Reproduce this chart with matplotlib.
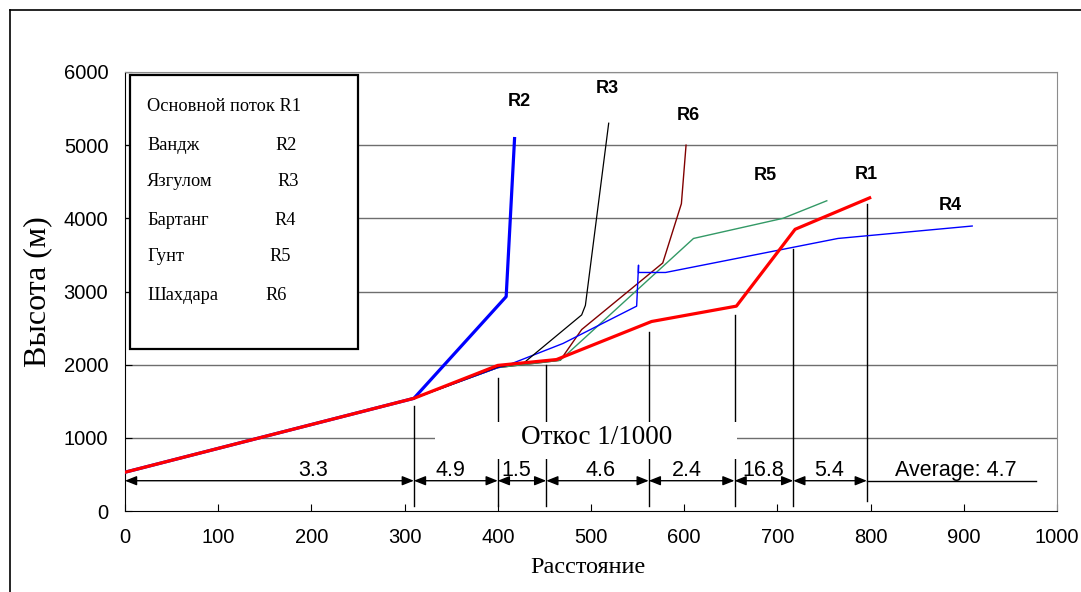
import matplotlib
matplotlib.use("Agg")
import matplotlib.pyplot as plt
from matplotlib.patches import Rectangle
from matplotlib.lines import Line2D

# --- данные профилей рек ---
r1_x = [0, 310, 400, 463, 565, 656, 719, 799]
r1_y = [530, 1540, 1990, 2070, 2590, 2800, 3850, 4280]

r2_x = [0, 310, 409, 418]
r2_y = [530, 1540, 2930, 5090]

r3_x = [0, 310, 400, 428, 490, 494, 519]
r3_y = [530, 1540, 1970, 2025, 2680, 2810, 5300]

r4_x = [0, 310, 400, 410, 470, 549, 551, 551, 580, 765, 909]
r4_y = [530, 1540, 1960, 1990, 2290, 2800, 3360, 3260, 3260, 3725, 3895]

r5_x = [0, 310, 400, 467, 610, 706, 753]
r5_y = [530, 1540, 1960, 2060, 3725, 4000, 4240]

r6_x = [0, 310, 400, 467, 490, 577, 597, 602]
r6_y = [530, 1540, 1960, 2060, 2480, 3390, 4200, 5000]

# подписи кривых
r_names = ["R2", "R3", "R6", "R5", "R1", "R4"]
r_label_x = [423, 518, 604, 687, 795, 886]
r_label_y = [5590, 5780, 5400, 4590, 4600, 4170]

# участки уклона
seg_x = [0, 310, 400, 452, 562, 654, 717, 796]
seg_top = [None, 1435, 1815, 2000, 2450, 2680, 3580, 4200]
seg_labels = ["3.3", "4.9", "1.5", "4.6", "2.4", "16.8", "5.4"]
seg_label_x = [202, 349, 420, 510, 603, 685, 756]

# легенда
rivers = ["Основной поток R1", "Вандж", "Язгулом", "Бартанг", "Гунт", "Шахдара"]
codes = ["", "R2", "R3", "R4", "R5", "R6"]

fig = plt.figure(figsize=(10.81, 5.92), dpi=100)
ax = fig.add_axes([0.1156, 0.1368, 0.8622, 0.7416])

ax.set_xlim(0, 1000)
ax.set_ylim(0, 6000)
ax.set_xticks(range(0, 1001, 100))
ax.set_yticks(range(0, 6001, 1000))
for gy in range(1000, 6001, 1000):
    ax.axhline(gy, color="#6e6e6e", lw=1, zorder=1)

ax.tick_params(direction="in", length=5, labelsize=14.5)
ax.tick_params(axis="x", pad=12)
ax.tick_params(axis="y", pad=12)
for lab in ax.get_xticklabels() + ax.get_yticklabels():
    lab.set_family("Liberation Sans")
ax.spines["top"].set_color("#8c8c8c")
ax.spines["right"].set_color("#8c8c8c")

# кривые
ax.plot(r6_x, r6_y, color="#800000", lw=1, zorder=3)
ax.plot(r5_x, r5_y, color="#339966", lw=1, zorder=3)
ax.plot(r4_x, r4_y, color="#0000ff", lw=1, zorder=3)
ax.plot(r3_x, r3_y, color="black", lw=0.9, zorder=3)
ax.plot(r2_x, r2_y, color="#0000ff", lw=2.3, zorder=4)
ax.plot(r1_x, r1_y, color="#ff0000", lw=2.3, zorder=5)

for name, lx, ly in zip(r_names, r_label_x, r_label_y):
    ax.text(lx, ly, name, ha="center", va="center", fontsize=13,
            fontweight="bold", family="Liberation Sans", zorder=6)

# вертикальные линии и размерные стрелки
arrow_y = 414
for xv, top in zip(seg_x[1:], seg_top[1:]):
    bottom = 140 if xv == seg_x[-1] else 70
    ax.plot([xv, xv], [bottom, top], color="black", lw=1, zorder=2)

for i, lab in enumerate(seg_labels):
    ax.annotate("", xy=(seg_x[i], arrow_y), xytext=(seg_x[i + 1], arrow_y),
                arrowprops=dict(arrowstyle="<|-|>,head_length=0.7,head_width=0.28",
                                color="black", lw=1, shrinkA=0, shrinkB=0), zorder=3)
    ax.text(seg_label_x[i], arrow_y + 60, lab, ha="center", va="baseline",
            fontsize=15.5, family="Liberation Sans", zorder=6)

ax.plot([seg_x[-1], 978], [arrow_y, arrow_y], color="black", lw=1, zorder=3)
ax.text(891, arrow_y + 60, "Average: 4.7", ha="center", va="baseline",
        fontsize=15.5, family="Liberation Sans", zorder=6)

# подпись уклона на белой подложке
ax.add_patch(Rectangle((333, 710), 324, 500, facecolor="white", edgecolor="none", zorder=2.5))
ax.text(506, 1000, "Откос 1/1000", ha="center", va="center", fontsize=19.5,
        family="Liberation Serif", zorder=6)

# легенда вручную
ax.add_patch(Rectangle((0.0055, 0.3686), 0.2446, 0.6246, transform=ax.transAxes,
                       facecolor="white", edgecolor="black", lw=1.6, zorder=7))
leg_y = [106.7, 146, 181.7, 220.7, 256.7, 295]
code_x = [0, 286, 288, 285, 280, 276]
for name, code, py, cx in zip(rivers, codes, leg_y, code_x):
    fy = (511 - py) / 439
    ax.text((147 - 125) / 932, fy, name, transform=ax.transAxes, ha="left",
            va="center", fontsize=13.2, family="Liberation Serif", zorder=8)
    if code:
        ax.text((cx - 125) / 932, fy, code, transform=ax.transAxes, ha="center",
                va="center", fontsize=13.2, family="Liberation Serif", zorder=8)

ax.set_xlabel("Расстояние", fontsize=17.5, family="Liberation Serif")
ax.xaxis.set_label_coords(0.497, -0.105)
ax.set_ylabel("Высота (м)", fontsize=23, family="Liberation Serif")
ax.yaxis.set_label_coords(-0.078, 0.5)

# рамка рисунка
fig.add_artist(Line2D([10 / 1081, 1.0], [1 - 10 / 592, 1 - 10 / 592], color="black", lw=1.2))
fig.add_artist(Line2D([10 / 1081, 10 / 1081], [0, 1 - 10 / 592], color="black", lw=1.2))

fig.savefig("out.png", dpi=100)
